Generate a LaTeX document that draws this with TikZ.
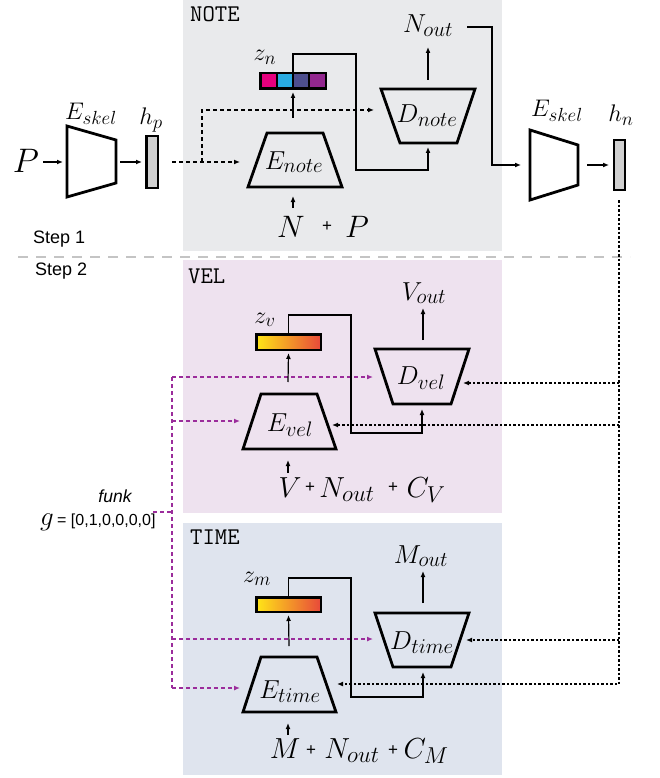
\documentclass[tikz,border=0pt]{standalone}
\usepackage{fix-cm}
\usepackage{fontspec}
\newfontfamily\sansf{Liberation Sans}
\usetikzlibrary{arrows.meta}
\DeclareMathSizes{24}{24}{19}{14}
\DeclareMathSizes{26}{26}{21}{16}
\DeclareMathSizes{29}{29}{23}{17}
\DeclareMathSizes{31}{31}{25}{18}
\definecolor{notebg}{HTML}{E9EAEC}
\definecolor{velbg}{HTML}{EEE2EF}
\definecolor{timebg}{HTML}{DFE4EE}
\definecolor{fpurple}{HTML}{9B2C9B}
\definecolor{sepgray}{HTML}{C4C4C4}
\definecolor{barg}{HTML}{D0D0D0}
\definecolor{zmag}{HTML}{E6007E}
\definecolor{zcyan}{HTML}{29ABE2}
\definecolor{zslate}{HTML}{4D4E8E}
\definecolor{zpurp}{HTML}{93278F}
\definecolor{gy}{HTML}{FFE617}
\definecolor{go}{HTML}{F7A21E}
\definecolor{gr}{HTML}{E8493A}
\newcommand\fsz[1]{\fontsize{#1}{#1}\selectfont}
\begin{document}
\begin{tikzpicture}[x=1pt,y=-1pt,
  enc/.style={draw,line width=2.8pt,line join=miter},
  conn/.style={line width=1.2pt},
  arr/.style={conn,-{Latex[length=6pt,width=5pt]}},
  dsh/.style={line width=1.3pt,dash pattern=on 4pt off 3pt,-{Latex[length=6pt,width=5pt]}},
  dot/.style={line width=1.3pt,dash pattern=on 2.5pt off 2pt},
  dotarr/.style={dot,-{Latex[length=6pt,width=5pt]}},
  pdot/.style={fpurple,line width=1.3pt,dash pattern=on 4pt off 3pt},
  parr/.style={pdot,-{Latex[length=6pt,width=5pt]}},
  lbl/.style={inner sep=0pt,anchor=base},
  boxlbl/.style={lbl,font=\fsz{26}},
  outlbl/.style={lbl,font=\fsz{26}},
  inlbl/.style={lbl,font=\fsz{31}},
  rowlbl/.style={lbl,font=\fsz{29}},
  smlbl/.style={lbl,font=\fsz{24}},
  plus/.style={inner sep=0pt,font=\sansf\fsz{17}},
  title/.style={inner sep=0pt,anchor=base west,font=\ttfamily\fsz{24}},
  steplbl/.style={inner sep=0pt,anchor=base west,font=\sansf\fsz{18}},
  bar/.style={draw,line width=2.5pt,inner sep=0pt}]
\useasboundingbox (0,0) rectangle (659,778);

% backgrounds
\fill[notebg] (183,0) rectangle (502,251);
\fill[velbg] (183,260) rectangle (502,513);
\fill[timebg] (183,523) rectangle (502,775);
\draw[sepgray,line width=2pt,dash pattern=on 10pt off 8pt] (18,257) -- (630,257);

% titles
\node[title] (tnote) at (190,22) {NOTE};
\node[title] (tvel) at (188,283) {VEL};
\node[title] (ttime) at (190,544) {TIME};
\node[steplbl] (s1) at (33,243) {Step 1};
\node[steplbl] (s2) at (35,275) {Step 2};

% ---------- coordinates ----------
\coordinate (pout) at (43,162);
\coordinate (esk1in) at (63,162);
\coordinate (esk1out) at (120,162);
\coordinate (hpin) at (142,162);
\coordinate (hpout) at (172,162);
\coordinate (enotein) at (240,162);
\coordinate (brk) at (202,162);
\coordinate (dnotew) at (374,110);
\coordinate (enotetop) at (293,118);
\coordinate (zk1) at (356,54);
\coordinate (zk2) at (428,170);
\coordinate (dnotebot) at (428,147);
\coordinate (ntail) at (293,208);
\coordinate (nhead) at (293,196);
\coordinate (dnotetop) at (428,80);
\coordinate (noutin) at (428,47);
\coordinate (nout0) at (467,27);
\coordinate (nk) at (492,165);
\coordinate (esk2in) at (521,165);
\coordinate (esk2out) at (587,165);
\coordinate (hnin) at (609,165);
\coordinate (hnout) at (619,200);
\coordinate (dvele) at (463,383);
\coordinate (evele) at (332,425);
\coordinate (dtimee) at (466,640);
\coordinate (etimee) at (337,684);
\coordinate (r1) at (619,383);
\coordinate (r2) at (619,425);
\coordinate (r3) at (619,640);
% purple
\coordinate (gL) at (153,512);
\coordinate (gR) at (172,512);
\coordinate (pv1) at (172,377);
\coordinate (pv2) at (172,421);
\coordinate (pv3) at (172,639);
\coordinate (pv4) at (172,688);
\coordinate (dvelw) at (373,377);
\coordinate (evelw) at (240,421);
\coordinate (dtimew) at (373,639);
\coordinate (etimew) at (240,688);
% vel
\coordinate (eveltop) at (288,382);
\coordinate (vk1) at (351,315);
\coordinate (vk2) at (422,433);
\coordinate (dvelbot) at (422,409);
\coordinate (vtail) at (288,473);
\coordinate (vhead) at (288,460);
\coordinate (dveltop) at (423,340);
\coordinate (voutin) at (423,308);
% time
\coordinate (etimetop) at (289,646);
\coordinate (mk1) at (351,578);
\coordinate (mk2) at (423,697);
\coordinate (dtimebot) at (423,672);
\coordinate (mtail) at (288,735);
\coordinate (mhead) at (288,723);
\coordinate (dtimetop) at (423,603);
\coordinate (moutin) at (423,571);

% ---------- shapes ----------
\draw[enc] (67,126) -- (116,140) -- (116,183) -- (67,197) -- cycle;
\draw[enc] (530,130) -- (578,145) -- (578,185) -- (530,200) -- cycle;
\draw[enc] (267,133) -- (323,133) -- (342,187) -- (248,187) -- cycle;
\draw[enc] (381,89) -- (475,89) -- (457,143) -- (400,143) -- cycle;
\draw[enc] (261,394) -- (317,394) -- (336,449) -- (243,449) -- cycle;
\draw[enc] (375,349) -- (469,349) -- (451,404) -- (393,404) -- cycle;
\draw[enc] (261,657) -- (317,657) -- (336,712) -- (243,712) -- cycle;
\draw[enc] (375,613) -- (469,613) -- (451,667) -- (393,667) -- cycle;

\node[bar,fill=barg,minimum width=11.5pt,minimum height=51.5pt] (hp) at (152,162) {};
\node[bar,fill=barg,minimum width=11pt,minimum height=50pt] (hn) at (619.5,165) {};

\foreach \c [count=\i from 0] in {zmag,zcyan,zslate,zpurp}
  \filldraw[fill=\c,draw=black,line width=2.2pt] (260.25+16.375*\i,73.25) rectangle ++(16.375,15.5);
\node[draw,line width=2.5pt,inner sep=0pt,minimum width=65.5pt,minimum height=15.5pt] (zn) at (293,81) {};
\node[bar,left color=gy,middle color=go,right color=gr,minimum width=64.5pt,minimum height=15.5pt] (zv) at (288.5,342) {};
\node[bar,left color=gy,middle color=go,right color=gr,minimum width=64.5pt,minimum height=14.5pt] (zm) at (288.5,604.5) {};

% ---------- labels ----------
\node[lbl,font=\fsz{34}] (P) at (26,172) {$P$};
\node[smlbl] (eskl1) at (91,120) {$E_{skel}$};
\node[smlbl] (hpl) at (151,125) {$h_p$};
\node[smlbl] (eskl2) at (557,117) {$E_{skel}$};
\node[smlbl] (hnl) at (621,122) {$h_n$};
\node[smlbl] (znl) at (265,61) {$z_n$};
\node[boxlbl] (Enote) at (294,169) {$E_{note}$};
\node[boxlbl] (Dnote) at (427,123) {$D_{note}$};
\node[outlbl] (Nout) at (428,33) {$N_{out}$};
\node[inlbl] (Nin) at (291,237) {$N$};
\node[plus] (pl1) at (327,227) {+};
\node[inlbl] (Pin) at (357,237) {$P$};

\node[smlbl] (zvl) at (265,323) {$z_v$};
\node[boxlbl] (Evel) at (290,431) {$E_{vel}$};
\node[boxlbl] (Dvel) at (421,384) {$D_{vel}$};
\node[outlbl] (Vout) at (424,300) {$V_{out}$};
\node[rowlbl] (Vin) at (290,497) {$V$};
\node[plus] (pl2) at (310,488) {+};
\node[rowlbl] (Nv) at (347,497) {$N_{out}$};
\node[plus] (pl3) at (393,488) {+};
\node[rowlbl] (Cv) at (426,497) {$C_V$};

\node[smlbl] (zml) at (257,582) {$z_m$};
\node[boxlbl] (Etime) at (290,698) {$E_{time}$};
\node[boxlbl] (Dtime) at (422,649) {$D_{time}$};
\node[outlbl] (Mout) at (421,563) {$M_{out}$};
\node[rowlbl] (Min) at (285,758) {$M$};
\node[plus] (pl4) at (311,751) {+};
\node[rowlbl] (Nm) at (352,758) {$N_{out}$};
\node[plus] (pl5) at (393,751) {+};
\node[rowlbl] (Cm) at (426,758) {$C_M$};

\node[inner sep=0pt,anchor=base,font=\sansf\itshape\fsz{17.5}] (funk) at (115,502) {funk};
\node[lbl,font=\fsz{27}] (g) at (47,525) {$g$};
\node[inner sep=0pt,anchor=base west,font=\sansf\fsz{16}] (gv) at (57,525) {= [0,1,0,0,0,0]};

% ---------- connectors ----------
\draw[arr] (pout) -- (esk1in);
\draw[arr] (esk1out) -- (hpin);
\draw[dsh] (hpout) -- (enotein);
\draw[dsh] (brk) |- (dnotew);
\draw[arr] (enotetop) -- ([yshift=-2pt]zn.south);
\draw[arr] (zn.north) |- (zk1) |- (zk2) -- (dnotebot);
\draw[arr] (ntail) -- (nhead);
\draw[arr] (dnotetop) -- (noutin);
\draw[arr] (nout0) -| (nk) -- (esk2in);
\draw[arr] (esk2out) -- (hnin);

\draw[dotarr] (hnout) |- (etimee);
\draw[dotarr] (r1) -- (dvele);
\draw[dotarr] (r2) -- (evele);
\draw[dotarr] (r3) -- (dtimee);

\draw[pdot] (gL) -- (gR);
\draw[pdot] (pv1) -- (pv4);
\draw[parr] (pv1) -- (dvelw);
\draw[parr] (pv2) -- (evelw);
\draw[parr] (pv3) -- (dtimew);
\draw[parr] (pv4) -- (etimew);

\draw[arr] (eveltop) -- ([yshift=-2pt]zv.south);
\draw[arr] (zv.north) |- (vk1) |- (vk2) -- (dvelbot);
\draw[arr] (vtail) -- (vhead);
\draw[arr] (dveltop) -- (voutin);

\draw[arr] (etimetop) -- ([yshift=-2pt]zm.south);
\draw[arr] (zm.north) |- (mk1) |- (mk2) -- (dtimebot);
\draw[arr] (mtail) -- (mhead);
\draw[arr] (dtimetop) -- (moutin);
\end{tikzpicture}
\end{document}
